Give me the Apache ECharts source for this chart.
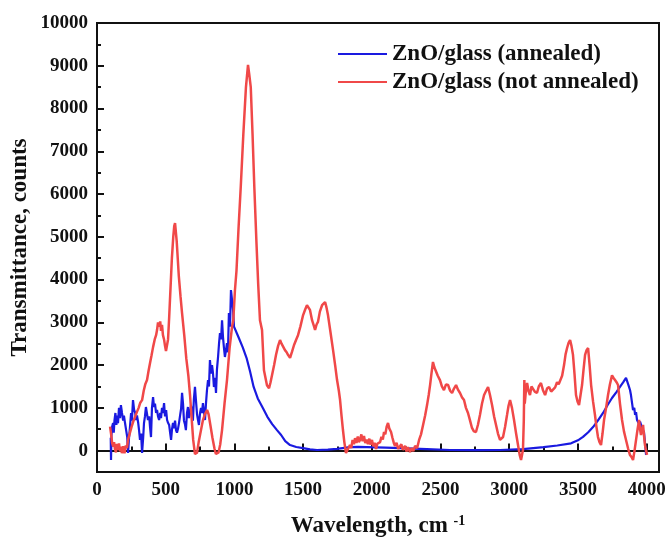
<!DOCTYPE html>
<html>
<head>
<meta charset="utf-8">
<script src="https://cdn.jsdelivr.net/npm/echarts@6/dist/echarts.min.js"></script>
<style>
  html, body { margin: 0; padding: 0; background: #fff; }
  #main { width: 665px; height: 538px; }
</style>
</head>
<body>
<div id="main"></div>
<script>
// series names
var seriesNames = ['ZnO/glass (annealed)', 'ZnO/glass (not annealed)'];

// annealed (blue)
var annealedX = [100, 102, 105, 110, 117, 122, 127, 134, 141, 146, 153, 160, 167, 174, 182, 190, 196, 204, 212, 220, 226, 233, 240, 248,
  254, 262, 270, 278, 284, 291, 300, 306, 313, 321, 328, 336, 342, 349, 356, 363, 371, 380, 386, 393, 400, 408, 415, 422, 430, 437,
  444, 452, 460, 466, 473, 480, 488, 495, 503, 510, 517, 525, 532, 539, 546, 553, 560, 568, 575, 582, 590, 597, 605, 612, 619, 626,
  633, 640, 647, 655, 662, 669, 677, 684, 691, 698, 705, 713, 720, 728, 735, 742, 750, 757, 764, 771, 779, 786, 793, 800, 808, 815,
  822, 830, 837, 844, 851, 859, 866, 873, 881, 888, 895, 903, 910, 917, 924, 931, 939, 946, 953, 960, 968, 975, 983, 990, 997,
  1030, 1060, 1090, 1114, 1140, 1170, 1208, 1240, 1275, 1310, 1340, 1370, 1405, 1450, 1500, 1550, 1601, 1680, 1747, 1800, 1841,
  1900, 1965, 2100, 2205, 2400, 2569, 2750, 2933, 3100, 3250, 3350, 3450, 3500, 3537, 3575, 3610, 3645, 3683, 3715, 3748, 3780,
  3806, 3830, 3850, 3866, 3879, 3886, 3894, 3898, 3901, 3910, 3916, 3923, 3930, 3937, 3945, 3952, 3960, 3967, 3974, 3981, 3988,
  3996, 4000, 4002];
var annealedY = [300, -220, 350, 560, 645, 420, 700, 880, 600, 820, 640, 1000, 760, 1065, 880, 700, 820, 645, 480, 318, -56, 300, 550, 880,
  700, 1183, 950, 880, 716, 820, 645, 480, 250, 400, -56, 300, 645, 800, 1020, 880, 716, 800, 550, 318, 1000, 1253, 1020, 1100, 880,
  950, 800, 716, 880, 760, 1000, 880, 1113, 800, 950, 716, 650, 600, 420, 250, 500, 645, 520, 700, 480, 420, 520, 650, 830, 980,
  1350, 1100, 700, 620, 480, 880, 1020, 760, 880, 1050, 950, 700, 1200, 1490, 1180, 850, 716, 600, 880, 1000, 880, 1113, 900, 716,
  1100, 1400, 1650, 1500, 2120, 1800, 2000, 1815, 1487, 1700, 1347, 1900, 2190, 2500, 2750, 2600, 3050, 2655, 2400, 2190, 2350,
  2515, 2300, 3220, 2900, 3756, 3800,
  3300, 2900, 2650, 2420, 2150, 1850, 1490, 1220, 990, 790, 620, 480, 365, 220, 130, 85, 60, 30, 14, 25, 40,
  65, 84, 88, 84, 70, 60, 35, 14, 10, 15, 35, 80, 120, 170, 240, 320, 430, 550, 700, 880, 1060,
  1230, 1370, 1490, 1600, 1700, 1550, 1417, 1300, 1110, 1150, 950, 1000, 833, 900, 716, 760, 620, 680, 600, 520, 480,
  430, 400, -100];

// not annealed (red)
var notAnnealedX = [95, 103, 110, 118, 124, 131, 138, 145, 152, 160, 167, 174, 181, 190, 200, 210, 218, 226, 240, 252, 265, 277, 290,
  303, 315, 328, 340, 352, 364, 375, 386, 397, 408, 420, 430, 437, 444, 452, 460, 466, 473, 480, 488, 495, 502, 510, 517, 525, 535,
  545, 555, 562, 568, 580, 595, 608, 619, 635, 650, 665, 677, 690, 700, 713, 722, 728, 740, 755, 770, 785, 801, 812, 825, 840, 855,
  865, 873, 885, 897, 910, 928, 946, 965, 983, 992, 1004, 1015, 1030, 1046, 1065, 1084, 1099, 1108, 1119, 1132, 1145, 1160, 1173,
  1186, 1201, 1215, 1237, 1252, 1263, 1274, 1289, 1303, 1318, 1332, 1343, 1354, 1368, 1380, 1390, 1405, 1420, 1434, 1450, 1463,
  1480, 1500, 1515, 1528, 1540, 1550, 1565, 1580, 1587, 1598, 1608, 1622, 1638, 1650, 1660, 1670, 1681, 1700, 1718, 1733, 1747,
  1760, 1769, 1780, 1790, 1800, 1812, 1826, 1841, 1850, 1860, 1870, 1878, 1888, 1898, 1906, 1914, 1924, 1933, 1943, 1952, 1962,
  1972, 1982, 1990, 2001, 2010, 2020, 2031, 2040, 2050, 2060, 2070, 2080, 2089, 2098, 2108, 2118, 2127, 2134, 2140, 2150, 2160,
  2169, 2180, 2192, 2205, 2215, 2225, 2242, 2252, 2263, 2278, 2290, 2302, 2315, 2330, 2344, 2358, 2373, 2388, 2402, 2414, 2424,
  2434, 2445, 2455, 2467, 2480, 2496, 2510, 2525, 2540, 2555, 2570, 2584, 2598, 2613, 2628, 2642, 2656, 2671, 2685, 2700, 2715,
  2729, 2743, 2758, 2772, 2787, 2802, 2817, 2832, 2846, 2860, 2875, 2890, 2904, 2918, 2933, 2944, 2955, 2970, 2984, 2995, 3006,
  3020, 3035, 3050, 3064, 3076, 3086, 3093, 3100, 3106, 3110, 3113, 3120, 3130, 3140, 3151, 3162, 3173, 3186, 3202, 3215, 3231,
  3245, 3261, 3275, 3290, 3305, 3319, 3334, 3348, 3360, 3370, 3385, 3399, 3410, 3421, 3432, 3443, 3453, 3464, 3475, 3486, 3497,
  3508, 3519, 3530, 3541, 3552, 3563, 3574, 3585, 3596, 3610, 3624, 3635, 3646, 3657, 3668, 3679, 3690, 3705, 3719, 3733, 3748,
  3759, 3770, 3781, 3792, 3806, 3821, 3835, 3850, 3865, 3879, 3890, 3901, 3912, 3923, 3934, 3945, 3952, 3959, 3966, 3974, 3981,
  3988, 3996, 4003];
var notAnnealedY = [560, 380, 180, 90, 200, 30, -40, 160, 20, 170, -20, 90, -60, 100, -60, 120, 60, 250, 420, 560, 690, 720, 900,
  1000, 1120, 1180, 1400, 1560, 1650, 1860, 2050, 2230, 2420, 2600, 2700, 2820, 3000, 2900, 3020, 2800, 2940, 2700, 2600, 2450,
  2330, 2350, 2600, 3100, 3800, 4500, 5000, 5250, 5320, 4900, 4100, 3600, 3216, 2700, 2150, 1750, 1300, 700, 250, -80, -120, -50,
  200, 450, 700, 850, 950, 850, 600, 300, 50, -80, -100, -40, 150, 480, 1100, 1650, 2400, 2900, 3050, 3756, 4200, 5200, 6160, 7400,
  8500, 9020, 8800, 8500, 7400, 6160, 4900, 3900, 3050, 2820, 1880, 1530, 1460, 1600, 1770, 2000, 2240, 2450, 2586, 2500, 2470,
  2350, 2300, 2240, 2170, 2320, 2470, 2600, 2700, 2900, 3170, 3300, 3400, 3380, 3290, 3050, 2900, 2820, 2950, 3010, 3250, 3400,
  3420, 3475, 3350, 3170, 2750, 2350, 2000, 1650, 1400, 1183, 800, 482, 200, -56, -100, 130, 60, 250, 150, 290, 180, 330, 200,
  250, 380, 220, 340, 180, 260, 150, 280, 140, 250, 100, 180, 40, 160, 120, 200, 320, 260, 435, 380, 560, 645, 520, 560, 435, 300,
  180, 110, 180, 40, 60, 150, 20, 110, -20, 80, -30, 60, -10, 110, 60, 250, 380, 600, 820, 1065, 1300, 1530, 1800, 2072, 1950,
  1930, 1750, 1650, 1500, 1417, 1550, 1534, 1400, 1347, 1450, 1534, 1420, 1347, 1250, 1183, 1000, 880, 700, 530, 450, 435, 600,
  833, 1100, 1300, 1400, 1487, 1300, 1065, 800, 600, 400, 250, 280, 318, 560, 833, 1050, 1183, 1000, 716, 400, 131, -100, -219,
  -100, 14, 700, 1650, 1100, 1350, 1581, 1400, 1300, 1500, 1534, 1380, 1347, 1500, 1581, 1420, 1300, 1450, 1487, 1380, 1347, 1480,
  1600, 1550, 1534, 1750, 2000, 2250, 2400, 2520, 2586, 2450, 2240, 1800, 1300, 1150, 1065, 1300, 1534, 1900, 2240, 2350, 2400,
  2000, 1534, 1150, 833, 550, 318, 200, 131, 400, 716, 1000, 1300, 1550, 1760, 1700, 1650, 1600, 1534, 1100, 716, 450, 250, 50,
  -103, -150, -219, 0, 250, 500, 716, 500, 365, 500, 600, 350, 131, 0, -100];

// axis ticks
var xMajorTicks = [0, 500, 1000, 1500, 2000, 2500, 3000, 3500, 4000];
var xMinorTicks = [250, 750, 1250, 1750, 2250, 2750, 3250, 3750];
var yMajorTicks = [0, 1000, 2000, 3000, 4000, 5000, 6000, 7000, 8000, 9000, 10000];
var yMinorTicks = [500, 1500, 2500, 3500, 4500, 5500, 6500, 7500, 8500, 9500];

function zip(xs, ys) {
  var out = [];
  for (var i = 0; i < xs.length; i++) out.push([xs[i], ys[i]]);
  return out;
}

var serif = "'Liberation Serif', 'Times New Roman', serif";
var black = '#111';
var plain = function (v) { return String(v); };

var chart = echarts.init(document.getElementById('main'));
chart.setOption({
  animation: false,
  color: ['#1a1ae0', '#f04848'],
  grid: {
    left: 97, right: 6, top: 23, bottom: 66,
    outerBoundsMode: 'none',
    containLabel: false,
    show: true, borderColor: black, borderWidth: 2, backgroundColor: 'transparent'
  },
  legend: {
    orient: 'vertical',
    left: 333,
    top: 37,
    icon: 'rect',
    itemWidth: 49,
    itemHeight: 2,
    itemGap: 4,
    data: seriesNames,
    textStyle: { fontFamily: serif, fontWeight: 'bold', fontSize: 23, color: black, lineHeight: 24 }
  },
  xAxis: [
    {
      type: 'value', min: 0, max: 4090, position: 'bottom',
      name: '{a|Wavelength, cm }{b|-1}',
      nameLocation: 'middle', nameGap: 42, nameMoveOverlap: false,
      nameTextStyle: {
        rich: {
          a: { fontFamily: serif, fontWeight: 'bold', fontSize: 23, color: black },
          b: { fontFamily: serif, fontWeight: 'bold', fontSize: 14, color: black, verticalAlign: 'top', padding: [0, 0, 10, 0] }
        }
      },
      axisLine: { lineStyle: { color: black, width: 2 } },
      axisTick: { inside: true, length: 7, customValues: xMajorTicks, lineStyle: { color: black, width: 2 } },
      axisLabel: { customValues: xMajorTicks, formatter: plain, margin: 9, fontFamily: serif, fontWeight: 'bold', fontSize: 19, color: black },
      splitLine: { show: false }
    },
    {
      type: 'value', min: 0, max: 4090, position: 'bottom',
      axisLine: { show: false },
      axisTick: { inside: true, length: 4, customValues: xMinorTicks, lineStyle: { color: black, width: 2 } },
      axisLabel: { show: false },
      splitLine: { show: false }
    }
  ],
  yAxis: [
    {
      type: 'value', min: -500, max: 10000, position: 'left',
      name: 'Transmittance, counts',
      nameLocation: 'middle', nameGap: 65, nameMoveOverlap: false,
      nameTextStyle: { fontFamily: serif, fontWeight: 'bold', fontSize: 23, color: black },
      axisLine: { show: true, lineStyle: { color: black, width: 2 } },
      axisTick: { show: true, inside: true, length: 7, customValues: yMajorTicks, lineStyle: { color: black, width: 2 } },
      axisLabel: { customValues: yMajorTicks, formatter: plain, margin: 9, fontFamily: serif, fontWeight: 'bold', fontSize: 19, color: black },
      splitLine: { show: false }
    },
    {
      type: 'value', min: -500, max: 10000, position: 'left',
      axisLine: { show: false },
      axisTick: { show: true, inside: true, length: 4, customValues: yMinorTicks, lineStyle: { color: black, width: 2 } },
      axisLabel: { show: false },
      splitLine: { show: false }
    }
  ],
  series: [
    {
      name: seriesNames[0], type: 'line', symbol: 'none',
      data: zip(annealedX, annealedY),
      lineStyle: { width: 2.2 }
    },
    {
      name: seriesNames[1], type: 'line', symbol: 'none',
      data: zip(notAnnealedX, notAnnealedY),
      lineStyle: { width: 2.5 }
    }
  ]
});
</script>
</body>
</html>
